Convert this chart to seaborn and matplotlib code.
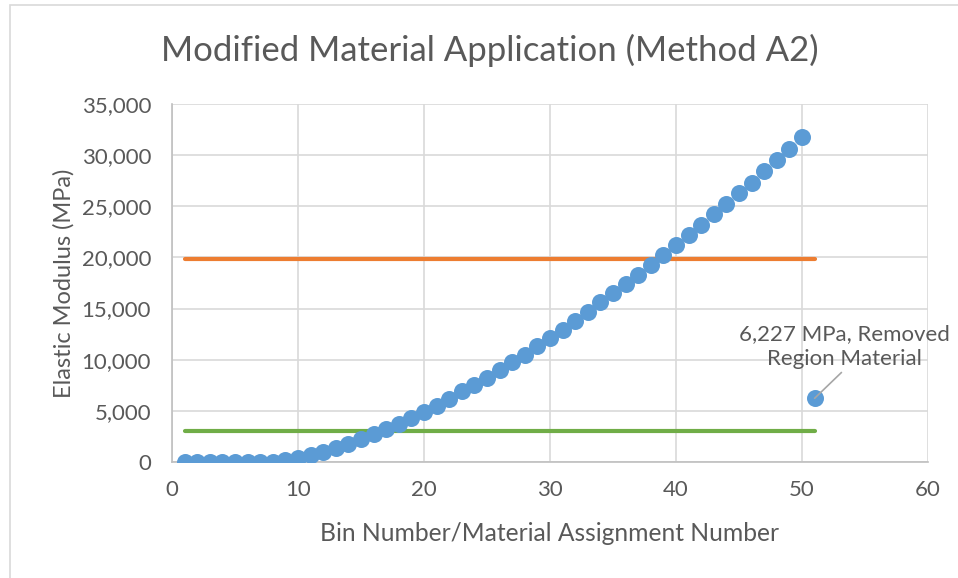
import matplotlib
matplotlib.use("Agg")
import matplotlib.pyplot as plt
import seaborn as sns
import pandas as pd
from matplotlib.patches import Rectangle
from matplotlib.ticker import FuncFormatter

# Elastic modulus per bin (MPa)
bins = list(range(1, 52))
modulus = [0, 0, 0, 0, 0, 0, 0, 0, 150, 400,
           700, 1000, 1400, 1800, 2200, 2700, 3200, 3700, 4300, 4900,
           5500, 6200, 6900, 7500, 8200, 9000, 9800, 10500, 11300, 12100,
           12900, 13800, 14700, 15600, 16500, 17400, 18300, 19300, 20200, 21200,
           22200, 23200, 24200, 25200, 26300, 27300, 28400, 29500, 30600, 31800,
           6227]

# Reference limits spanning the bins
limit_x = [1, 51]
upper_limit = [19850, 19850]
lower_limit = [3000, 3000]

title = "Modified Material Application (Method A2)"
xlabel = "Bin Number/Material Assignment Number"
ylabel = "Elastic Modulus (MPa)"
note = "6,227 MPa, Removed\nRegion Material"

sns.set_theme(style="white")
plt.rcParams["font.family"] = ["Lato", "DejaVu Sans"]

text_c = "#595959"
grid_c = "#d9d9d9"

fig = plt.figure(figsize=(9.58, 5.78), dpi=100)
ax = fig.add_axes([0.1795, 0.2007, 0.9687 - 0.1795, 0.8201 - 0.2007])

# outer chart frame
fig.patches.append(Rectangle((10 / 958, -0.05), 1.1, 1 - 5 / 578 + 0.05,
                             transform=fig.transFigure, fill=False,
                             edgecolor=grid_c, linewidth=1.2, zorder=0))

pts = pd.DataFrame({"bin": bins, "modulus": modulus})
lines = pd.DataFrame({"x": limit_x + limit_x,
                      "y": upper_limit + lower_limit,
                      "limit": ["upper"] * 2 + ["lower"] * 2})

sns.lineplot(data=lines, x="x", y="y", hue="limit",
             palette={"upper": "#ed7d31", "lower": "#70ad47"},
             linewidth=3, legend=False, ax=ax, zorder=2)
sns.scatterplot(data=pts, x="bin", y="modulus", s=150, color="#5b9bd5",
                edgecolor="#5b9bd5", linewidth=0, ax=ax, zorder=3)

ax.set_xlim(0, 60)
ax.set_ylim(0, 35000)
ax.set_xticks(range(0, 61, 10))
ax.set_yticks(range(0, 35001, 5000))
ax.yaxis.set_major_formatter(FuncFormatter(lambda v, p: f"{int(v):,}"))
ax.grid(True, color=grid_c, linewidth=1.2)
ax.set_axisbelow(True)
for side in ["top", "right"]:
    ax.spines[side].set_visible(False)
for side in ["left", "bottom"]:
    ax.spines[side].set_color("#bfbfbf")
    ax.spines[side].set_linewidth(1.2)

ax.tick_params(axis="x", colors=text_c, labelsize=16, length=0, pad=13)
ax.tick_params(axis="y", colors=text_c, labelsize=16, length=0, pad=15)
ax.set_xlabel(xlabel, fontsize=17.7, color=text_c, labelpad=16)
ax.set_ylabel(ylabel, fontsize=17, color=text_c, labelpad=5)
fig.text(0.511, 0.913, title, ha="center", va="center", fontsize=25, color=text_c)

ax.annotate(note, xy=(bins[-1], modulus[-1]), xytext=(53.4, 11300),
            ha="center", va="center", fontsize=16, color=text_c,
            linespacing=1.35,
            arrowprops=dict(arrowstyle="-", color="#a6a6a6", lw=1.2,
                            shrinkA=0, shrinkB=0,
                            relpos=(0.5, 0)))

fig.savefig("out.png", dpi=100)
